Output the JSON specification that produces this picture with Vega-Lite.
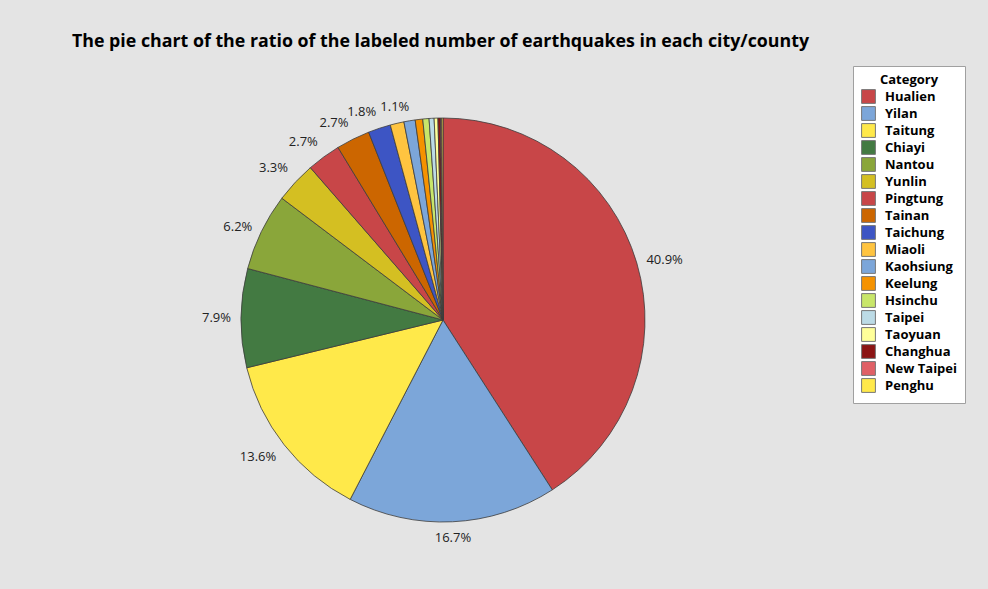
{
  "$schema": "https://vega.github.io/schema/vega-lite/v6.json",
  "autosize": {"type": "none"},
  "width": 886,
  "height": 538,
  "padding": {"left": 0, "top": 51, "right": 102, "bottom": 0},
  "background": "#e4e4e4",
  "title": {
    "text": "The pie chart of the ratio of the labeled number of earthquakes in each city/county",
    "anchor": "start",
    "dx": 72,
    "offset": 0,
    "font": "Open Sans",
    "fontSize": 17.8,
    "fontWeight": "bold",
    "color": "#000000"
  },
  "data": {
    "values": [
      {"idx": 1, "city": "Hualien", "pct": 40.9, "label": "40.9%"},
      {"idx": 2, "city": "Yilan", "pct": 16.7, "label": "16.7%"},
      {"idx": 3, "city": "Taitung", "pct": 13.6, "label": "13.6%"},
      {"idx": 4, "city": "Chiayi", "pct": 7.9, "label": "7.9%"},
      {"idx": 5, "city": "Nantou", "pct": 6.2, "label": "6.2%"},
      {"idx": 6, "city": "Yunlin", "pct": 3.3, "label": "3.3%"},
      {"idx": 7, "city": "Pingtung", "pct": 2.7, "label": "2.7%"},
      {"idx": 8, "city": "Tainan", "pct": 2.7, "label": "2.7%"},
      {"idx": 9, "city": "Taichung", "pct": 1.8, "label": "1.8%"},
      {"idx": 10, "city": "Miaoli", "pct": 1.1, "label": "1.1%"},
      {"idx": 11, "city": "Kaohsiung", "pct": 0.9, "label": ""},
      {"idx": 12, "city": "Keelung", "pct": 0.6, "label": ""},
      {"idx": 13, "city": "Hsinchu", "pct": 0.5, "label": ""},
      {"idx": 14, "city": "Taipei", "pct": 0.4, "label": ""},
      {"idx": 15, "city": "Taoyuan", "pct": 0.3, "label": ""},
      {"idx": 16, "city": "Changhua", "pct": 0.2, "label": ""},
      {"idx": 17, "city": "New Taipei", "pct": 0.1, "label": ""},
      {"idx": 18, "city": "Penghu", "pct": 0.1, "label": ""}
    ]
  },
  "encoding": {
    "theta": {"field": "pct", "type": "quantitative", "stack": true},
    "order": {"field": "idx", "type": "quantitative"}
  },
  "layer": [
    {
      "mark": {"type": "arc", "outerRadius": 202, "stroke": "#3c3c3c", "strokeWidth": 0.8},
      "encoding": {
        "color": {
          "field": "city",
          "type": "nominal",
          "sort": ["Hualien","Yilan","Taitung","Chiayi","Nantou","Yunlin","Pingtung","Tainan","Taichung","Miaoli","Kaohsiung","Keelung","Hsinchu","Taipei","Taoyuan","Changhua","New Taipei","Penghu"],
          "scale": {
            "domain": ["Hualien","Yilan","Taitung","Chiayi","Nantou","Yunlin","Pingtung","Tainan","Taichung","Miaoli","Kaohsiung","Keelung","Hsinchu","Taipei","Taoyuan","Changhua","New Taipei","Penghu"],
            "range": ["#c84648","#7ca6d9","#ffe94a","#437a42","#8aa63a","#d4bf22","#c84648","#cc6600","#3d55c4","#ffc440","#7ca6d9","#f59200","#c8e66a","#bcdbe6","#ffff99","#8b1414","#e06066","#ffe94a"]
          },
          "legend": {
            "title": "Category",
            "orient": "none",
            "legendX": 853,
            "legendY": 15,
            "fillColor": "#ffffff",
            "strokeColor": "#a0a0a0",
            "padding": 8,
            "titleFont": "Open Sans",
            "titleFontSize": 13,
            "titleFontWeight": "bold",
            "titleColor": "#000000",
            "titlePadding": 2,
            "titleAnchor": "middle",
            "labelFont": "Open Sans",
            "labelFontSize": 13,
            "labelFontWeight": "bold",
            "labelColor": "#000000",
            "symbolType": "square",
            "symbolSize": 190,
            "symbolStrokeColor": "#777777",
            "symbolStrokeWidth": 1,
            "symbolOpacity": 1,
            "rowPadding": -3,
            "labelOffset": 9,
            "labelLimit": 200
          }
        }
      }
    },
    {
      "mark": {
        "type": "text",
        "radius": 212,
        "font": "Open Sans",
        "fontSize": 13,
        "color": "#222222",
        "align": {"expr": "sin(scale('theta', (datum.pct_start + datum.pct_end) / 2)) > 0.25 ? 'left' : (sin(scale('theta', (datum.pct_start + datum.pct_end) / 2)) < -0.25 ? 'right' : 'center')"},
        "baseline": {"expr": "cos(scale('theta', (datum.pct_start + datum.pct_end) / 2)) > 0.6 ? 'bottom' : (cos(scale('theta', (datum.pct_start + datum.pct_end) / 2)) < -0.6 ? 'top' : 'middle')"}
      },
      "encoding": {
        "text": {"field": "label", "type": "nominal"}
      }
    }
  ]
}
